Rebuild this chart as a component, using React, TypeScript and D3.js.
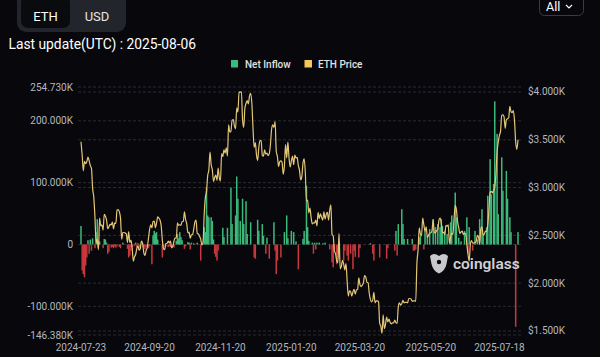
import React from 'react';
import * as d3 from 'd3';

const START_DATE = '2024-07-23';

// Net inflow (K ETH), one value per day from 2024-07-23
const netInflow: number[] = [
  30, -42, -48, -53, -34, -21, 7, -15, 8, -10,
  10, 0, -6, 20, 41, -5, 5, 0, 0, -6,
  9, 8, 3, -15, -12, 0, -5, -4, -6, -3,
  -5, -3, 0, -4, -6, 0, 3, 0, 0, 0,
  -7, -21, -18, -10, -4, 0, -3, 3, -5, 2,
  -6, -4, 0, 0, -5, -8, -4, 0, -6, -3,
  0, -32, 15, 22, 18, 20, 8, 0, 0, 0,
  -21, -4, 0, -3, 0, -4, -3, -4, 0, -3,
  -5, 0, 6, 17, 10, 20, 12, 7, 0, -7,
  -3, 0, 4, 3, -8, 3, 0, 2, 0, 0,
  3, 0, 0, -26, 0, 0, 28, 20, 92, 47,
  44, 0, 44, 38, 8, -15, -20, -26, -10, 0,
  0, 0, 27, 12, 0, 0, 27, 0, 0, 92,
  33, 0, 0, 47, 110, 74, 0, 38, 0, 74,
  33, 0, 70, 17, 0, 0, 36, 0, 0, -21,
  -23, 0, 40, 22, 0, 0, 33, 14, 0, -15,
  11, 0, -23, 0, 0, 0, 36, -10, -48, -26,
  0, 0, -21, 0, 0, 20, 0, 47, 10, 0,
  0, 22, 0, 20, 0, 5, 0, -40, 0, 0,
  0, 9, 22, 0, 95, 28, 6, 0, 0, 3,
  -15, 3, -8, 3, 0, 3, 0, 0, 2, 0,
  3, 0, 0, 0, -8, 0, -29, -37, -8, 0,
  -32, -15, -23, 0, 0, 0, -26, -10, 0, -18,
  -26, 0, -15, 0, -40, -10, -20, 0, 0, -21,
  -6, 0, 0, 0, 0, 0, 0, 0, 0, 2,
  0, -15, -26, 0, 0, 0, 0, -21, 0, 0,
  0, 0, 0, -23, -6, 0, 0, 0, 0, 0,
  -10, 22, -18, 33, 0, 0, 57, 33, 9, 0,
  0, 9, 0, 0, 0, 9, -10, -10, -8, 0,
  0, 11, 14, 0, 0, -8, 22, 0, 14, 0,
  25, 0, 0, 41, 0, 28, 0, 33, 0, 28,
  41, 30, 0, 22, 0, 17, 0, 0, 36, 47,
  0, 0, 84, 44, 0, 11, 0, 5, 0, 0,
  22, 0, 44, -15, 28, 0, 0, -10, 0, 22,
  0, 8, 0, 41, 0, 57, 17, 0, 0, 28,
  79, 0, 138, 81, 0, 98, 231.573, 0, 179, 49,
  0, 0, 141, 87, 0, 0, 119, 74, 0, 44,
  20, 0, 0, 0, -133.073, 0, 20,
];

// ETH price (USD), one value per day from 2024-07-23
const ethPrice: number[] = [
  // Jul 2024
  3480, 3340, 3175, 3275, 3250, 3270, 3320, 3280, 3230,
  // Aug
  3200, 2990, 2900, 2690, 2420, 2460, 2350, 2680, 2600, 2610, 2555, 2720, 2700, 2660, 2570, 2590,
  2615, 2610, 2640, 2570, 2630, 2625, 2765, 2770, 2745, 2680, 2460, 2530, 2530, 2525, 2515,
  // Sep
  2425, 2540, 2425, 2450, 2370, 2230, 2275, 2300, 2360, 2390, 2345, 2360, 2440, 2415, 2320,
  2290, 2340, 2375, 2465, 2560, 2610, 2580, 2645, 2650, 2580, 2630, 2695, 2680, 2660, 2600,
  // Oct
  2450, 2360, 2350, 2415, 2415, 2440, 2420, 2440, 2370, 2385, 2440, 2475, 2470, 2630, 2605,
  2610, 2605, 2645, 2645, 2745, 2665, 2620, 2525, 2535, 2470, 2505, 2510, 2565, 2640, 2660, 2520,
  // Nov
  2515, 2490, 2460, 2400, 2430, 2720, 2895, 2960, 3125, 3185, 3370, 3240, 3185, 3065, 3105,
  3130, 3075, 3205, 3105, 3070, 3355, 3325, 3395, 3360, 3415, 3330, 3655, 3580, 3590, 3705,
  // Dec
  3710, 3645, 3615, 3835, 3790, 4000, 3995, 4005, 3710, 3630, 3830, 3880, 3910, 3875, 3960,
  3985, 3880, 3620, 3420, 3470, 3340, 3285, 3420, 3490, 3495, 3335, 3330, 3395, 3350, 3360, 3335,
  // Jan 2025
  3355, 3450, 3610, 3655, 3630, 3690, 3380, 3325, 3220, 3270, 3280, 3265, 3140, 3225, 3450,
  3310, 3475, 3310, 3215, 3280, 3330, 3240, 3340, 3310, 3315, 3230, 3180, 3080, 3115, 3255, 3300,
  // Feb
  3160, 2860, 2870, 2735, 2785, 2685, 2620, 2630, 2630, 2660, 2600, 2740, 2675, 2725,
  2690, 2660, 2745, 2670, 2720, 2740, 2660, 2765, 2820, 2510, 2495, 2335, 2310, 2235,
  // Mar
  2215, 2520, 2150, 2175, 2240, 2200, 2140, 2205, 2020, 1865, 1920, 1910, 1865, 1910, 1935,
  1885, 1930, 1935, 2055, 1985, 1965, 1980, 2005, 2080, 2065, 2010, 2005, 1895, 1830, 1805, 1820,
  // Apr
  1905, 1795, 1815, 1815, 1805, 1580, 1550, 1475, 1670, 1525, 1570, 1645, 1595, 1625, 1590,
  1575, 1585, 1585, 1615, 1585, 1580, 1755, 1795, 1770, 1785, 1820, 1795, 1800, 1800, 1795,
  // May
  1840, 1840, 1835, 1810, 1815, 1815, 1810, 2205, 2345, 2580, 2515, 2495, 2680, 2610, 2545,
  2590, 2480, 2500, 2525, 2525, 2550, 2665, 2525, 2530, 2550, 2565, 2660, 2680, 2630, 2530, 2530,
  // Jun
  2510, 2605, 2595, 2610, 2415, 2485, 2525, 2510, 2680, 2815, 2770, 2645, 2580, 2520, 2535,
  2545, 2510, 2525, 2515, 2405, 2300, 2230, 2410, 2445, 2420, 2420, 2425, 2435, 2500, 2485,
  // Jul
  2410, 2570, 2590, 2505, 2515, 2545, 2540, 2610, 2770, 2950, 2960, 2945, 2970, 3010, 3140,
  3370, 3475, 3545, 3590, 3755, 3760, 3740, 3620, 3710, 3720, 3730, 3850, 3795, 3785, 3805, 3700,
  // Aug
  3480, 3400, 3500,
];

const leftTicks: number[] = [-146.38, -100, 0, 100, 200, 254.73];
const leftTickLabels: string[] = ['-146.380K', '-100.000K', '0', '100.000K', '200.000K', '254.730K'];
const rightTicks: number[] = [1500, 2000, 2500, 3000, 3500, 4000];
const rightTickLabels: string[] = ['$1.500K', '$2.000K', '$2.500K', '$3.000K', '$3.500K', '$4.000K'];
const xTickLabels: string[] = ['2024-07-23', '2024-09-20', '2024-11-20', '2025-01-20', '2025-03-20', '2025-05-20', '2025-07-18'];

const parse = d3.timeParse('%Y-%m-%d');

export default function App() {
  const W = 600, H = 357;
  const plotTop = 87, plotBottom = 335, plotLeft = 81, plotRight = 518;
  const start = parse(START_DATE) as Date;
  const n = Math.max(netInflow.length, ethPrice.length);
  const dates = d3.range(n).map(i => d3.timeDay.offset(start, i));

  const x = d3.scaleTime().domain([start, dates[n - 1]]).range([plotLeft, plotRight]);
  const yL = d3.scaleLinear().domain([-146.38, 254.73]).range([plotBottom, plotTop]);
  const yR = d3.scaleLinear().domain([1458, 4052]).range([plotBottom, plotTop]);

  const line = d3.line<number>()
    .x((_, i) => x(dates[i]))
    .y(d => yR(d))
    .curve(d3.curveMonotoneX);

  const font = 'Roboto, "Noto Sans", sans-serif';
  const green = '#3cba7b';
  const red = '#c9383d';
  const priceColor = '#e3c676';
  const axisColor = '#b4b7bf';
  const gridColor = '#2a2b33';
  const barW = 1.5;

  return (
    <svg width={W} height={H} style={{ position: 'absolute', left: 0, top: 0, display: 'block' }}>
      <rect x={0} y={0} width={W} height={H} fill="#07070c" />

      {/* toggle */}
      <rect x={17} y={-8} width={109} height={40} rx={9} fill="#23252c" />
      <rect x={21} y={-4} width={49} height={32} rx={7} fill="#0a0b0f" />
      <text x={45.5} y={20.5} textAnchor="middle" fill="#ffffff" fontSize={13} fontFamily={font}>ETH</text>
      <text x={97} y={20.5} textAnchor="middle" fill="#e6e6e6" fontSize={13} fontFamily={font}>USD</text>

      {/* dropdown */}
      <rect x={539.5} y={-8} width={44} height={23.5} rx={5} fill="none" stroke="#3a3c44" />
      <text x={546} y={10.5} fill="#ffffff" fontSize={12.5} fontFamily={font}>All</text>
      <path d="M566,5 L569,8 L572,5" fill="none" stroke="#ffffff" strokeWidth={1.2} />

      <text x={8.5} y={48.5} fill="#ffffff" fontSize={13.8} fontFamily={font}>Last update(UTC) : 2025-08-06</text>

      {/* legend */}
      <rect x={231} y={60} width={7} height={7.5} fill={green} />
      <text x={245} y={67.5} fill="#e0e0e0" fontSize={10} fontWeight={500} fontFamily={font}>Net Inflow</text>
      <rect x={304.5} y={60} width={7.5} height={7.5} fill="#f2c85c" />
      <text x={318} y={67.5} fill="#e0e0e0" fontSize={10} fontWeight={500} fontFamily={font}>ETH Price</text>

      {/* grid */}
      {leftTicks.map((t, i) => (
        <line key={'gl' + i} x1={78} x2={522} y1={yL(t)} y2={yL(t)} stroke={gridColor} strokeDasharray="3,2" />
      ))}
      {rightTicks.map((t, i) => (
        <line key={'gr' + i} x1={78} x2={522} y1={yR(t)} y2={yR(t)} stroke={gridColor} strokeDasharray="3,2" />
      ))}

      {/* left axis labels */}
      {leftTicks.map((t, i) => (
        <text key={'ll' + i} x={73} y={yL(t) + 3.5} textAnchor="end" fill={axisColor} fontSize={10} fontFamily={font}>{leftTickLabels[i]}</text>
      ))}
      {/* right axis labels */}
      {rightTicks.map((t, i) => (
        <text key={'rl' + i} x={528} y={yR(t) + 3.5} textAnchor="start" fill={axisColor} fontSize={10} fontFamily={font}>{rightTickLabels[i]}</text>
      ))}
      {/* x axis labels */}
      {xTickLabels.map((s, i) => (
        <text key={'xl' + i} x={x(parse(s) as Date)} y={351} textAnchor="middle" fill={axisColor} fontSize={10} fontFamily={font}>{s}</text>
      ))}

      {/* bars */}
      {netInflow.map((v, i) => v === 0 ? null : (
        <rect key={'b' + i}
          x={x(dates[i]) - barW / 2}
          y={v > 0 ? yL(v) : yL(0)}
          width={barW}
          height={Math.abs(yL(v) - yL(0))}
          fill={v > 0 ? green : red} />
      ))}

      {/* watermark */}
      <g transform="translate(430,253)" fill="#c9c9cd">
        <path d="M0,3 Q4,-1 9,3 Q14,-1 18,3 L16.5,11 Q15,18 9,20.5 Q3,18 1.5,11 Z" />
        <circle cx={9} cy={9} r={2.2} fill="#07070c" />
      </g>
      <text x={453} y={268.5} fill="#d0d0d4" fontSize={15.5} fontWeight={600} fontFamily={font}>coinglass</text>

      {/* price line */}
      <path d={line(ethPrice) || ''} fill="none" stroke={priceColor} strokeWidth={1.2} />
    </svg>
  );
}
